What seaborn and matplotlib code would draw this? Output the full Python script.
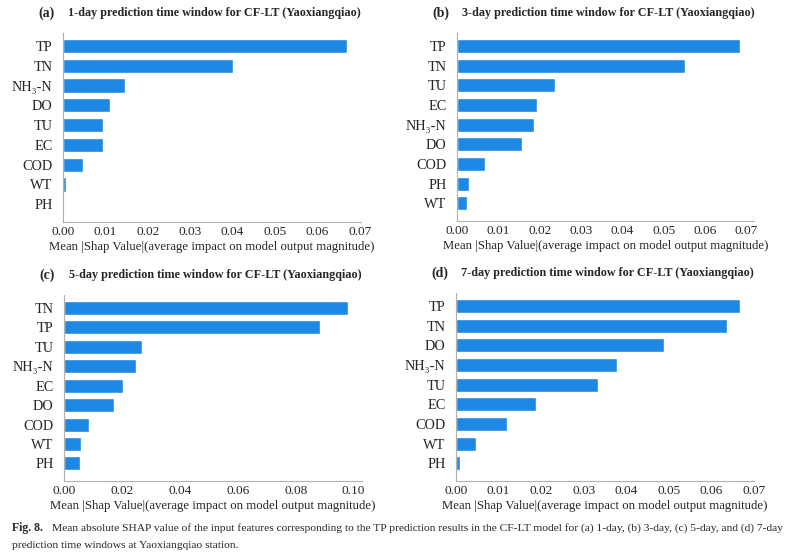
import numpy as np
import pandas as pd
import matplotlib
matplotlib.use("Agg")
import matplotlib.pyplot as plt
import seaborn as sns

NH3 = "NH\u2083-N"

# panel (a) 1-day
feat_1d = ["TP", "TN", NH3, "DO", "TU", "EC", "COD", "WT", "PH"]
shap_1d = [0.0670, 0.0401, 0.0146, 0.0110, 0.0094, 0.0094, 0.0048, 0.0006, 0.0003]

# panel (b) 3-day
feat_3d = ["TP", "TN", "TU", "EC", NH3, "DO", "COD", "PH", "WT"]
shap_3d = [0.0684, 0.0550, 0.0237, 0.0194, 0.0186, 0.0156, 0.0067, 0.0030, 0.0025]

# panel (c) 5-day
feat_5d = ["TN", "TP", "TU", NH3, "EC", "DO", "COD", "WT", "PH"]
shap_5d = [0.0980, 0.0884, 0.0268, 0.0248, 0.0205, 0.0172, 0.0087, 0.0059, 0.0054]

# panel (d) 7-day
feat_7d = ["TP", "TN", "DO", NH3, "TU", "EC", "COD", "WT", "PH"]
shap_7d = [0.0667, 0.0637, 0.0488, 0.0379, 0.0333, 0.0187, 0.0119, 0.0047, 0.0009]

panel_tags = ["(a)", "(b)", "(c)", "(d)"]
windows = ["1-day", "3-day", "5-day", "7-day"]
xticks = [np.arange(0, 0.071, 0.01), np.arange(0, 0.071, 0.01),
          np.arange(0, 0.101, 0.02), np.arange(0, 0.071, 0.01)]
xmax = [0.0703, 0.0718, 0.1029, 0.0700]

sns.set_style("white")
plt.rcParams["font.family"] = ["Liberation Serif", "DejaVu Serif"]

W, H = 807, 556
fig = plt.figure(figsize=(W / 100, H / 100), dpi=100)

# axes boxes in pixels: left, top, right, bottom
boxes = [(63, 33, 361, 222), (457, 33, 754, 221),
         (64, 295, 362, 481), (456, 293, 754, 481)]

data = [(feat_1d, shap_1d), (feat_3d, shap_3d), (feat_5d, shap_5d), (feat_7d, shap_7d)]
bar_color = "#1E88E5"

for i, ((feats, vals), (l, t, r, b)) in enumerate(zip(data, boxes)):
    ax = fig.add_axes([l / W, 1 - b / H, (r - l) / W, (b - t) / H])
    df = pd.DataFrame({"feature": feats, "shap": vals})
    sns.barplot(data=df, x="shap", y="feature", orient="h", color=bar_color,
                saturation=1, width=0.72, ax=ax)
    ax.set_xlim(0, xmax[i])
    ax.set_ylim(8.9, -0.66)
    ax.set_xticks(xticks[i])
    ax.set_xticklabels([f"{v:.2f}" for v in xticks[i]], fontsize=9.6)
    ax.tick_params(axis="y", length=0, pad=7.5, labelsize=10.3)
    ax.tick_params(axis="x", length=0, pad=3)
    ax.set_ylabel("")
    ax.set_xlabel("Mean |Shap Value|(average impact on model output magnitude)",
                  fontsize=9.2, labelpad=2)
    for s in ["top", "right"]:
        ax.spines[s].set_visible(False)
    for s in ["left", "bottom"]:
        ax.spines[s].set_color("#b0b0b0")
        ax.spines[s].set_linewidth(0.8)
    # panel title
    ty = t - 20
    fig.text((l - 25) / W, 1 - ty / H, panel_tags[i], fontsize=10,
             fontweight="bold", ha="left", va="center")
    fig.text((l + 5) / W, 1 - ty / H,
             f"{windows[i]} prediction time window for CF-LT (Yaoxiangqiao)",
             fontsize=8.7, fontweight="bold", ha="left", va="center")

cap1 = ("Mean absolute SHAP value of the input features corresponding to the TP prediction "
        "results in the CF-LT model for (a) 1-day, (b) 3-day, (c) 5-day, and (d) 7-day")
cap2 = "prediction time windows at Yaoxiangqiao station."
fig.text(12 / W, 1 - 528 / H, "Fig. 8.", fontsize=8.5, fontweight="bold",
         ha="left", va="center")
fig.text(52 / W, 1 - 528 / H, cap1, fontsize=8.28, ha="left", va="center")
fig.text(12 / W, 1 - 546 / H, cap2, fontsize=8.28, ha="left", va="center")

fig.savefig("out.png", dpi=100)
